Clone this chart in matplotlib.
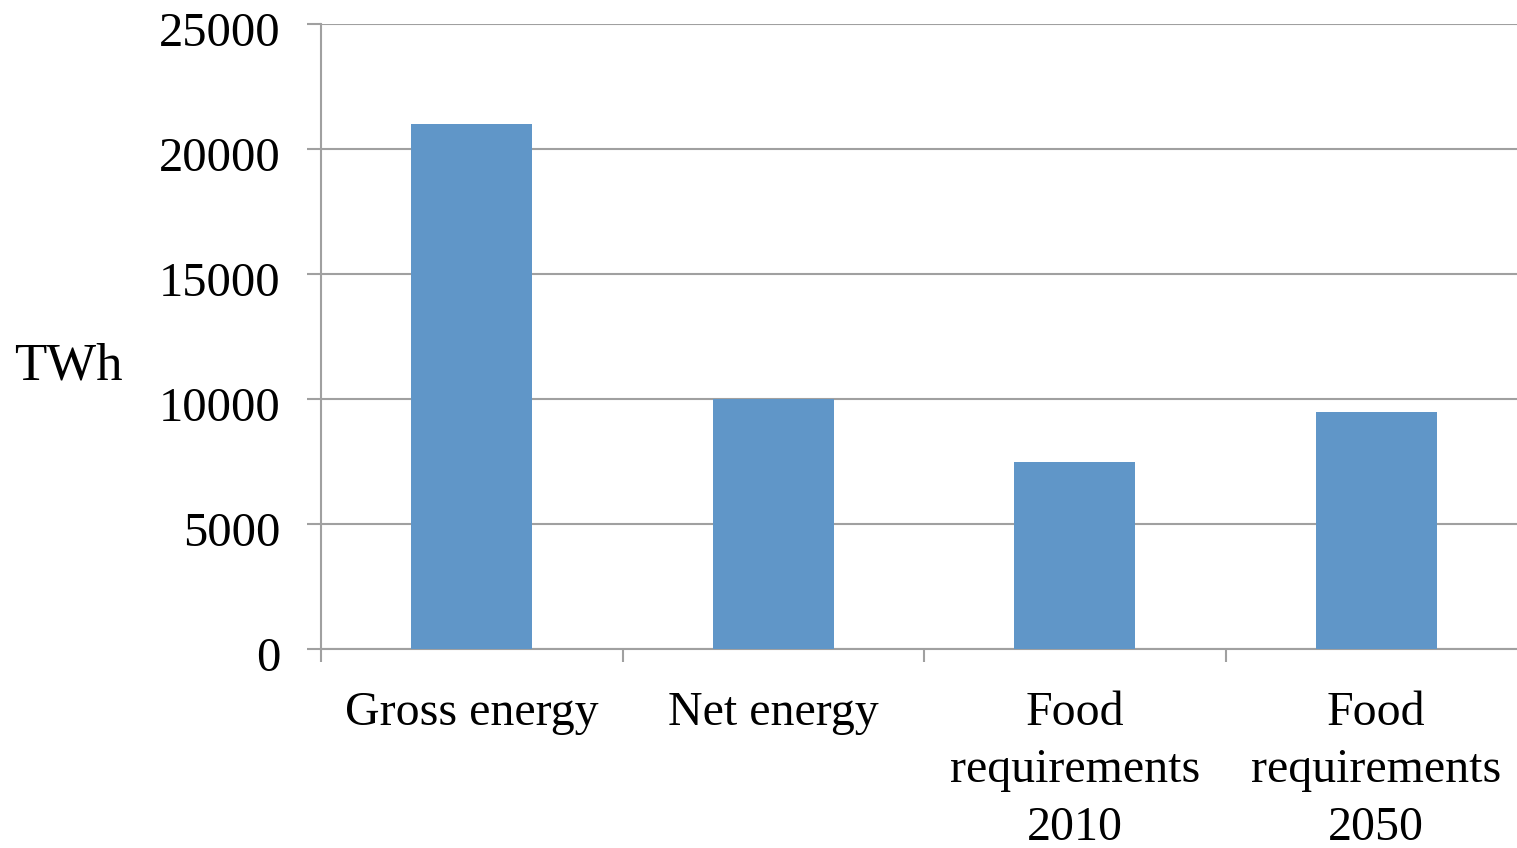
import matplotlib
matplotlib.use("Agg")
import matplotlib.pyplot as plt
from matplotlib.transforms import ScaledTranslation

categories = ["Gross energy", "Net energy", "Food\nrequirements\n2010", "Food\nrequirements\n2050"]
values = [21000, 10000, 7470, 9500]
yticks = [0, 5000, 10000, 15000, 20000, 25000]

plt.rcParams["font.family"] = ["Liberation Serif", "DejaVu Serif"]

W, H = 1517, 848
fig = plt.figure(figsize=(W / 100, H / 100), dpi=100)
ax = fig.add_axes([321 / W, 1 - 649 / H, (1527 - 321) / W, (649 - 24) / H])

grid_col = "#a0a0a0"
x = range(len(categories))
ax.bar(x, values, width=0.4, color="#6096c8", zorder=3)

ax.set_xlim(-0.5, len(categories) - 0.5)
ax.set_ylim(0, 25000)
ax.set_yticks(yticks)
ax.set_yticklabels([str(v) for v in yticks], fontsize=35)
ax.yaxis.grid(True, color=grid_col, linewidth=1.5, zorder=0)
ax.set_axisbelow(True)

# category separators as major ticks, names as minor ticks at bar centres
ax.set_xticks([i + 0.5 for i in range(-1, len(categories))], minor=False)
ax.set_xticklabels([])
ax.set_xticks(list(x), minor=True)
ax.set_xticklabels(categories, minor=True, fontsize=34.5, linespacing=1.4)
ax.tick_params(axis="x", which="minor", length=0, pad=30)
ax.tick_params(axis="x", which="major", length=9, width=1.5, color=grid_col, direction="out")
ax.tick_params(axis="y", length=10, width=1.5, color=grid_col, pad=19)

# nudge y tick labels slightly below their gridlines
shift = ScaledTranslation(0, -5 / 100, fig.dpi_scale_trans)
for lab in ax.get_yticklabels():
    lab.set_transform(lab.get_transform() + shift)

for side in ("top", "right"):
    ax.spines[side].set_visible(False)
for side in ("left", "bottom"):
    ax.spines[side].set_color(grid_col)
    ax.spines[side].set_linewidth(1.5)

fig.text(68 / W, 1 - 366 / H, "TWh", fontsize=38, ha="center", va="center")

fig.savefig("out.png", dpi=100, facecolor="white")
